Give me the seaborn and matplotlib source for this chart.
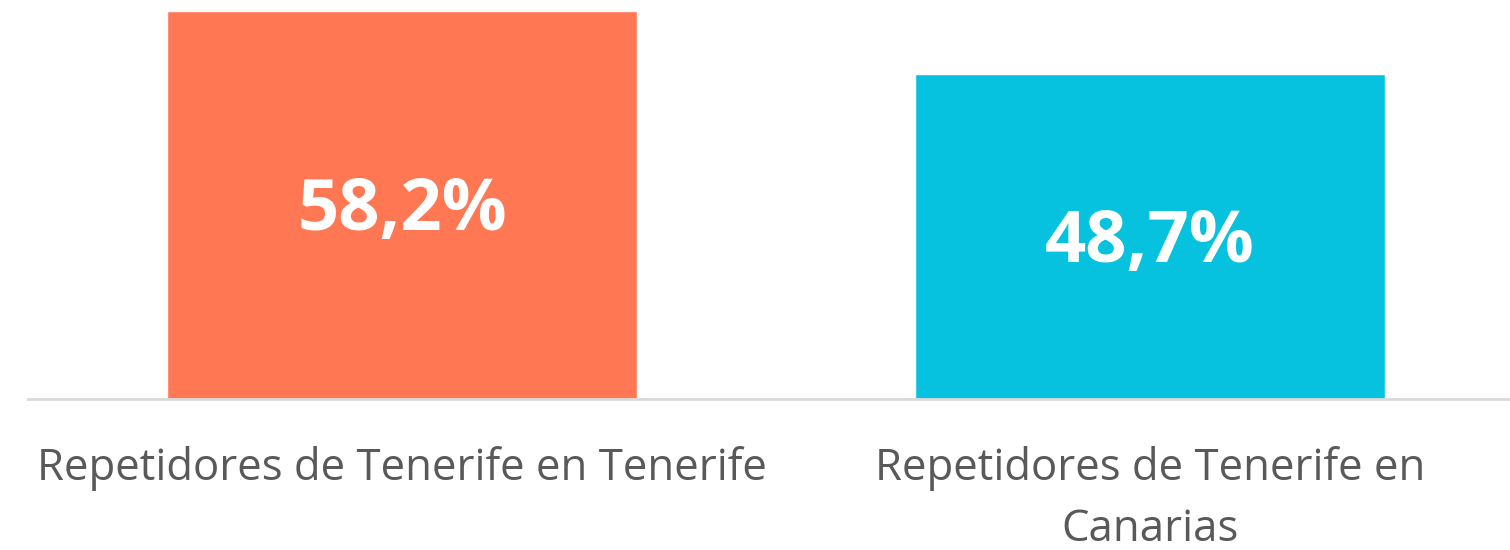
import matplotlib
matplotlib.use("Agg")
import matplotlib.pyplot as plt
import seaborn as sns
import pandas as pd

# data
categorias = ["Repetidores de Tenerife en Tenerife", "Repetidores de Tenerife en Canarias"]
etiquetas = ["Repetidores de Tenerife en Tenerife", "Repetidores de Tenerife en\nCanarias"]
valores = [58.2, 48.7]
colores = ["#FF7753", "#06C2DF"]

sns.set_theme(style="white")
plt.rcParams["font.family"] = ["Open Sans", "DejaVu Sans"]

df = pd.DataFrame({"cat": categorias, "val": valores})

fig = plt.figure(figsize=(15.1, 5.5), dpi=100)
ax = fig.add_axes([28 / 1510, 151 / 550, 1496 / 1510, 399 / 550])

sns.barplot(data=df, x="cat", y="val", hue="cat", palette=colores,
            width=0.628, legend=False, ax=ax, saturation=1)

ax.set_ylim(0, 59.8)
ax.set_xlim(-0.5, 1.5)
ax.set_yticks([])
ax.set_xlabel("")
ax.set_ylabel("")
for s in ["top", "right", "left"]:
    ax.spines[s].set_visible(False)
ax.spines["bottom"].set_color("#D9D9D9")
ax.spines["bottom"].set_linewidth(2)

ax.set_xticks(range(len(categorias)))
ax.set_xticklabels(etiquetas, fontsize=31.5, color="#595959", linespacing=1.5)
ax.tick_params(axis="x", length=0, pad=34)

for i, v in enumerate(valores):
    ax.text(i, v / 2 - 0.9, f"{v:.1f}%".replace(".", ","), ha="center", va="center",
            color="white", fontsize=52, fontweight="bold")

fig.savefig("out.png", dpi=100)
